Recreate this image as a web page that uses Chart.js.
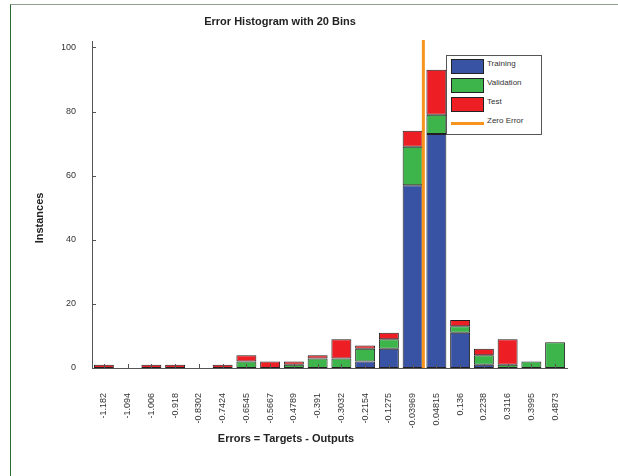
<!DOCTYPE html>
<html>
<head>
<meta charset="utf-8">
<script src="https://cdn.jsdelivr.net/npm/chart.js@4/dist/chart.umd.min.js"></script>
<style>
  html, body { margin: 0; padding: 0; background: #fff; }
  #wrap { position: relative; width: 618px; height: 476px; overflow: hidden; }
  #frame { position: absolute; left: 10px; top: 4px; right: -2px; bottom: -2px;
           border-left: 1px solid #2b6b33; border-top: 1px solid #8f9f90; }
  canvas { position: absolute; left: 0; top: 0; }
  #legend { position: absolute; left: 446px; top: 55px; width: 94px; height: 78px;
            border: 1px solid #555; background: #fff;
            font: 8px "Liberation Sans", Arial, sans-serif; color: #333; }
  .row { position: absolute; left: 4px; height: 14px; }
  .sw { position: absolute; left: 0; top: 0; width: 31px; height: 13px; border: 1px solid #222; box-sizing: content-box; }
  .ln { position: absolute; left: 0; top: 6px; width: 33px; height: 3px; }
  .tx { position: absolute; left: 36px; top: 0px; white-space: nowrap; }
</style>
</head>
<body>
<div id="wrap">
  <div id="frame"></div>
  <canvas id="c" width="618" height="476"></canvas>
  <div id="legend"></div>
</div>
<script>
// Bin centres of the error histogram (tick labels on the x axis)
const binLabels = ['-1.182','-1.094','-1.006','-0.918','-0.8302','-0.7424','-0.6545','-0.5667',
  '-0.4789','-0.391','-0.3032','-0.2154','-0.1275','-0.03969','0.04815','0.136','0.2238',
  '0.3116','0.3995','0.4873'];

// Instances per bin for each data split
const training   = [0,0,0,0,0,0,0,0,0,0,0,2,6,57,73,11,1,0,0,0];
const validation = [0,0,0,0,0,0,2,0,1,3,3,4,3,12,6,2,3,1,2,8];
const test       = [1,0,1,1,0,1,2,2,1,1,6,1,2,5,14,2,2,8,0,0];

const yTicks = [0, 20, 40, 60, 80, 100];
const yMax = 102;
const zeroError = 0;

const chartTitle = 'Error Histogram with 20 Bins';
const xTitle = 'Errors = Targets - Outputs';
const yTitle = 'Instances';

const FONT = '"Liberation Sans", Arial, sans-serif';
const C = { training: '#3853a4', validation: '#3db54a', test: '#ed1f24', zero: '#f7941d', edge: '#231f20', axis: '#555' };

// numeric centres, used to place the zero-error marker on the bin axis
const centres = binLabels.map(Number);

const datasets = [
  { label: 'Training', data: training, backgroundColor: C.training },
  { label: 'Validation', data: validation, backgroundColor: C.validation },
  { label: 'Test', data: test, backgroundColor: C.test }
].map(d => Object.assign(d, {
  type: 'bar', borderColor: C.edge, borderWidth: 1, borderSkipped: false,
  barPercentage: 0.84, categoryPercentage: 1.0
}));

const zeroEntry = { label: 'Zero Error', color: C.zero };

// fractional bin position of a given error value
function binPosition(v) {
  for (let i = 0; i < centres.length - 1; i++) {
    if (v >= centres[i] && v <= centres[i + 1]) {
      return i + (v - centres[i]) / (centres[i + 1] - centres[i]);
    }
  }
  return 0;
}

// axis decorations: zero-error line, inward tick marks and titles
const decor = {
  id: 'decor',
  afterDatasetsDraw(chart) {
    const ctx = chart.ctx, x = chart.scales.x, y = chart.scales.y;
    const p = binPosition(zeroError);
    const i = Math.floor(p);
    const px = x.getPixelForValue(i) + (x.getPixelForValue(i + 1) - x.getPixelForValue(i)) * (p - i);
    ctx.save();
    ctx.strokeStyle = C.zero;
    ctx.lineWidth = 3;
    ctx.beginPath();
    ctx.moveTo(px, y.getPixelForValue(0));
    ctx.lineTo(px, y.getPixelForValue(yMax) - 1);
    ctx.stroke();
    ctx.restore();
  },
  afterDraw(chart) {
    const ctx = chart.ctx, x = chart.scales.x, y = chart.scales.y;
    const a = chart.chartArea;
    ctx.save();
    ctx.strokeStyle = C.axis;
    ctx.lineWidth = 1;
    ctx.beginPath();
    yTicks.forEach(v => {
      const py = Math.round(y.getPixelForValue(v)) + 0.5;
      ctx.moveTo(a.left, py); ctx.lineTo(a.left + 4, py);
    });
    binLabels.forEach((_, i) => {
      const px = Math.round(x.getPixelForValue(i)) + 0.5;
      ctx.moveTo(px, a.bottom); ctx.lineTo(px, a.bottom - 4);
    });
    ctx.stroke();

    ctx.fillStyle = '#222';
    ctx.font = 'bold 11px ' + FONT;
    ctx.textAlign = 'center';
    ctx.textBaseline = 'middle';
    ctx.fillText(chartTitle, 280, 22);
    ctx.fillText(xTitle, 286, 439);
    ctx.translate(40, 218);
    ctx.rotate(-Math.PI / 2);
    ctx.fillText(yTitle, 0, 0);
    ctx.restore();
  }
};

const chart = new Chart(document.getElementById('c'), {
  type: 'bar',
  data: { labels: binLabels, datasets },
  options: {
    responsive: false,
    animation: false,
    layout: { padding: { left: 62, right: 51, top: 41, bottom: 0 } },
    plugins: { legend: { display: false }, title: { display: false }, tooltip: { enabled: false } },
    scales: {
      x: {
        type: 'category', stacked: true, offset: true,
        grid: { display: false, drawTicks: false },
        border: { display: true, color: C.axis, width: 1 },
        ticks: { autoSkip: false, maxRotation: 90, minRotation: 90, padding: 25,
                 color: '#333', font: { family: FONT, size: 9 } },
        afterFit(s) { s.height = 108; }
      },
      y: {
        stacked: true, min: 0, max: yMax,
        grid: { display: false, drawTicks: false },
        border: { display: true, color: C.axis, width: 1 },
        ticks: { padding: 16, color: '#333', font: { family: FONT, size: 9 } },
        afterBuildTicks(s) { s.ticks = yTicks.map(v => ({ value: v })); },
        afterFit(s) { s.width = 30; }
      }
    }
  },
  plugins: [decor]
});

// legend box built from the chart's datasets plus the zero-error marker
const lg = document.getElementById('legend');
const entries = chart.data.datasets.map(d => ({ label: d.label, color: d.backgroundColor, line: false }))
  .concat([{ label: zeroEntry.label, color: zeroEntry.color, line: true }]);
entries.forEach((d, i) => {
  const row = document.createElement('div');
  row.className = 'row';
  row.style.top = (3 + i * 19) + 'px';
  const mark = document.createElement('div');
  mark.className = d.line ? 'ln' : 'sw';
  mark.style.background = d.color;
  const t = document.createElement('div');
  t.className = 'tx';
  t.textContent = d.label;
  row.appendChild(mark); row.appendChild(t);
  lg.appendChild(row);
});
</script>
</body>
</html>
